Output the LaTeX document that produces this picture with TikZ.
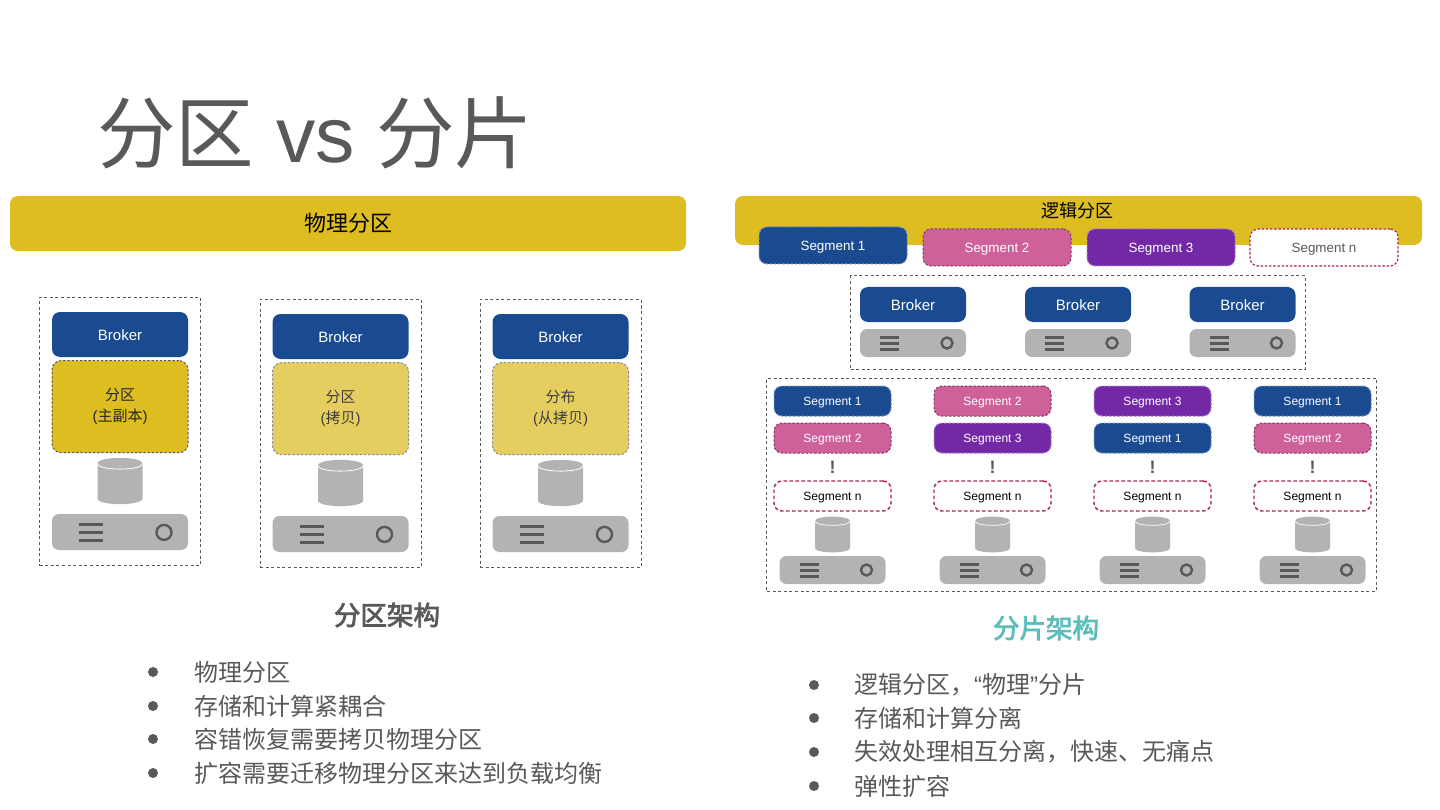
\documentclass[tikz,border=0pt]{standalone}
\usepackage{fontspec}
\setmainfont{Liberation Sans}
\newfontfamily\cjk{Noto Sans CJK SC}
\newfontfamily\cjkhead[FakeBold=3]{Noto Sans CJK SC}
\usetikzlibrary{positioning}
\definecolor{barY}{HTML}{DDBD20}
\definecolor{partY}{HTML}{E5CE5F}
\definecolor{brokerB}{HTML}{1A4A8F}
\definecolor{segP}{HTML}{CE6199}
\definecolor{segV}{HTML}{7329A5}
\definecolor{segR}{HTML}{A8234F}
\definecolor{greyT}{HTML}{595959}
\definecolor{srvG}{HTML}{B3B3B3}
\definecolor{tealT}{HTML}{5CBDBA}
\newcommand{\fsz}[1]{\fontsize{#1}{1.25\dimexpr#1pt\relax}\selectfont}
\tikzset{
  framebox/.style={draw=greyT, line width=1pt, dash pattern=on 3pt off 2.6pt, inner sep=0pt},
  barbox/.style={fill=barY, rounded corners=8pt, inner sep=0pt, text=black, font=\cjk},
  brokerbox/.style={fill=brokerB, text=white, rounded corners=8pt, inner sep=0pt, font=\fsz{15}, text height=11pt, text depth=0pt},
  partmain/.style={fill=barY, draw=greyT, line width=1pt, dash pattern=on 2.4pt off 1.8pt, rounded corners=9pt, minimum width=136pt, minimum height=92pt, inner sep=0pt, align=center, text=black!85, font=\cjk\fontsize{15}{21}\selectfont},
  partcopy/.style={partmain, fill=partY, draw=greyT!70, text=greyT!70!black},
  segbase/.style={rounded corners=8pt, line width=1pt, dash pattern=on 2.4pt off 1.8pt, inner sep=0pt},
  segblue/.style={segbase, fill=brokerB, draw=brokerB!60!white, text=white},
  segpink/.style={segbase, fill=segP, draw=segP!60!black, text=white},
  segviolet/.style={segbase, fill=segV, draw=segV!60!white, text=white},
  segnone/.style={segbase, fill=white, draw=segR, line width=1.4pt, dash pattern=on 3.6pt off 2.4pt, text=black},
  segtop/.style={minimum width=148pt, minimum height=37pt, font=\fsz{13.4}, text height=10pt, text depth=0pt},
  seglow/.style={minimum width=117pt, minimum height=30pt, font=\fsz{12}, text height=9pt, text depth=0pt},
  srvbody/.style={fill=srvG, rounded corners=7pt, inner sep=0pt},
  srvbar/.style={draw=greyT, line width=3pt},
  srvlamp/.style={circle, draw=greyT, line width=2.4pt, inner sep=0pt},
  headtxt/.style={font=\cjkhead\fsz{26.5}, inner sep=0pt},
  itemtxt/.style={anchor=west, inner sep=0pt, text=greyT, font=\cjk\fsz{24}},
  dotitem/.style={circle, fill=greyT, inner sep=0pt, minimum size=10pt},
  srvbig/.pic={
    \node[srvbody, minimum width=136pt, minimum height=36pt] (-body) {};
    \foreach \k in {-8,0,8} \draw[srvbar] (-41,\k) -- (-17,\k);
    \node[srvlamp, minimum size=15pt] (-lamp) at (44,0.4) {};
  },
  srvsmall/.pic={
    \node[srvbody, minimum width=106pt, minimum height=28pt] (-body) {};
    \foreach \k in {-6,0,6} \draw[srvbar] (-33,\k) -- (-14,\k);
    \node[srvlamp, minimum size=11pt] (-lamp) at (34,0) {};
  },
  diskbig/.pic={
    \fill[srvG] (-22.5,-17.5) .. controls (-22.5,-25) and (22.5,-25) .. (22.5,-17.5) -- (22.5,17.5) .. controls (22.5,25) and (-22.5,25) .. (-22.5,17.5) -- cycle;
    \draw[white, line width=0.8pt] (-22.5,-17.5) .. controls (-22.5,-10) and (22.5,-10) .. (22.5,-17.5);
  },
  disksmall/.pic={
    \fill[srvG] (-17.5,-13.5) .. controls (-17.5,-19.3) and (17.5,-19.3) .. (17.5,-13.5) -- (17.5,13.5) .. controls (17.5,19.3) and (-17.5,19.3) .. (-17.5,13.5) -- cycle;
    \draw[white, line width=0.7pt] (-17.5,-13.5) .. controls (-17.5,-7.7) and (17.5,-7.7) .. (17.5,-13.5);
  }
}

\begin{document}
\begin{tikzpicture}[x=1pt,y=-1pt]
\useasboundingbox (0,0) rectangle (1440,810);
% title
\node[anchor=west, inner sep=0pt, text=greyT, font=\fsz{78.5}] (title) at (97,133) {{\cjk 分区} vs {\cjk 分片}};
% left side
\node[barbox, minimum width=676pt, minimum height=55pt, font=\cjk\fsz{22}] (barL) at (348,223.5) {物理分区};
\foreach \id/\dx/\dy/\pstyle/\ptop/\psub in {a/0/0/partmain/分区/主副本, b/220.5/2/partcopy/分区/拷贝, c/440.5/2/partcopy/分布/从拷贝} {
  \node[framebox, minimum width=161pt, minimum height=268pt] (frame\id) at (120+\dx,431.5+\dy) {};
  \node[brokerbox, minimum width=136pt, minimum height=45pt] (broker\id) at (120+\dx,334.5+\dy) {Broker};
  \node[\pstyle, below=3pt of broker\id] (part\id) {\ptop\\{\rmfamily (}\psub{\rmfamily )}};
  \pic (disk\id) at (120+\dx,481+\dy) {diskbig};
  \pic (srv\id) at (120+\dx,532+\dy) {srvbig};
}
\node[headtxt, text=greyT] (headL) at (387,615) {分区架构};
\foreach \i/\yy/\txt in {1/672/物理分区, 2/706/存储和计算紧耦合, 3/739/容错恢复需要拷贝物理分区, 4/773/扩容需要迁移物理分区来达到负载均衡} {
  \node[dotitem] (dotL\i) at (153,\yy) {};
  \node[itemtxt] (itemL\i) at (194,\yy) {\txt};
}
% right side
\node[barbox, minimum width=687pt, minimum height=49pt] (barR) at (1078.5,220.5) {};
\node[inner sep=0pt, text=black, font=\cjk\fsz{18}] (barRtxt) at (1077,211) {逻辑分区};
\node[segblue, segtop] (top1) at (833,245.5) {Segment 1};
\node[segpink, segtop] (top2) at (997,247.5) {Segment 2};
\node[segviolet, segtop] (top3) at (1161,247.5) {Segment 3};
\node[segnone, segtop, text=greyT, line width=1.2pt, dash pattern=on 2.4pt off 1.8pt] (topn) at (1324,247.5) {Segment n};
\node[framebox, minimum width=455pt, minimum height=93pt] (frameup) at (1078,322.5) {};
\foreach \id/\xx in {a/913, b/1078, c/1242.5} {
  \node[brokerbox, minimum width=106pt, minimum height=35pt] (top\id) at (\xx,304.5) {Broker};
  \pic (topsrv\id) at (\xx,343) {srvsmall};
}
\node[framebox, minimum width=609.5pt, minimum height=213pt] (framelow) at (1071.7,484.5) {};
\foreach \id/\xx/\sa/\ta/\sb/\tb in {a/832.5/segblue/1/segpink/2, b/992.5/segpink/2/segviolet/3, c/1152.5/segviolet/3/segblue/1, d/1312.5/segblue/1/segpink/2} {
  \node[\sa, seglow] (seg\id1) at (\xx,401) {Segment \ta};
  \node[\sb, seglow] (seg\id2) at (\xx,438) {Segment \tb};
  \node[inner sep=0pt, text=greyT, font=\bfseries\fsz{18}] (more\id) at (\xx,467.5) {!};
  \node[segnone, seglow] (seg\id n) at (\xx,496) {Segment n};
  \pic (disk\id) at (\xx,534.5) {disksmall};
  \pic (lowsrv\id) at (\xx,570) {srvsmall};
}
\node[headtxt, text=tealT] (headR) at (1046,628) {分片架构};
\foreach \i/\yy/\txt in {1/685/{逻辑分区，{\rmfamily “}物理{\rmfamily ”}分片}, 2/718/存储和计算分离, 3/752/失效处理相互分离，快速、无痛点, 4/786/弹性扩容} {
  \node[dotitem] (dotR\i) at (814,\yy) {};
  \node[itemtxt] (itemR\i) at (854,\yy) {\txt};
}
\end{tikzpicture}
\end{document}
